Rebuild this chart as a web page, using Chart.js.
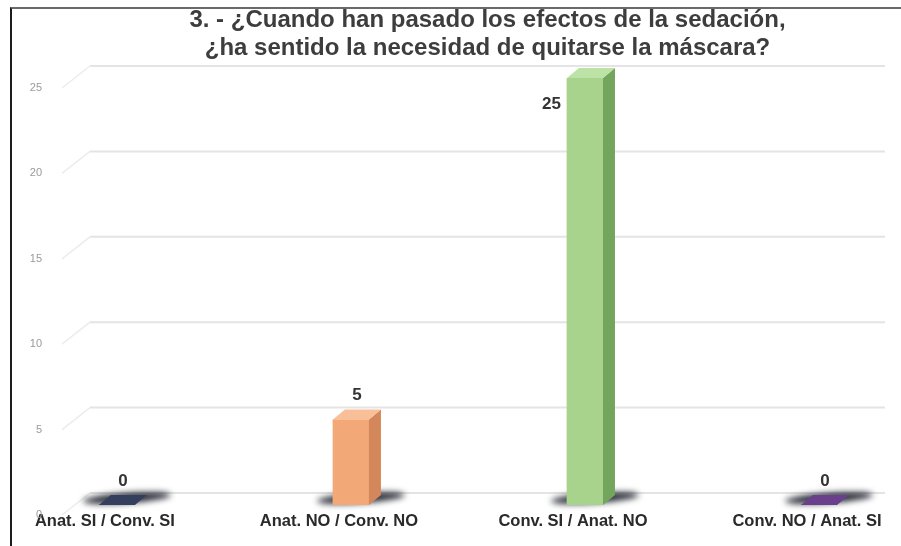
<!DOCTYPE html>
<html>
<head>
<meta charset="utf-8">
<script src="https://cdn.jsdelivr.net/npm/chart.js"></script>
<style>
  html, body { margin: 0; padding: 0; background: #fff; }
  #frame {
    position: absolute; left: 10px; top: 7px; width: 891px; height: 539px;
    border-left: 2px solid #1c1c1c; border-top: 2px solid #6a6a6a;
  }
  #chart { position: absolute; left: 0; top: 0; }
</style>
</head>
<body>
<div id="frame"></div>
<canvas id="chart" width="901" height="546"></canvas>
<script>
const categories = [
  "Anat. SI / Conv. SI",
  "Anat. NO / Conv. NO",
  "Conv. SI / Anat. NO",
  "Conv. NO / Anat. SI",
];
const answers = [0, 5, 25, 0];
const yTicks = [0, 5, 10, 15, 20, 25];
const titleLines = [
  "3. - ¿Cuando han pasado los efectos de la sedación,",
  "¿ha sentido la necesidad de quitarse la máscara?",
];

// front / side / top colours of each column
const frontColors = ["#2b3550", "#f3a878", "#a7d38c", "#5b3479"];
const sideColors = ["#1d2438", "#d4875a", "#74a55d", "#3f2156"];
const topColors = ["#343f5e", "#f8bf98", "#bde2a5", "#6a3f8c"];

const DX = 12; // depth of the columns
const DY = 10;

const depthPlugin = {
  id: "depth3d",
  beforeDatasetsDraw(chart) {
    const { ctx, chartArea, scales } = chart;
    const y = scales.y;
    ctx.save();
    // back wall grid with the slanted links to the tick labels
    yTicks.forEach((v) => {
      const yf = y.getPixelForValue(v);
      const yb = yf - 12;
      ctx.strokeStyle = "#e4e4e4";
      ctx.lineWidth = 2;
      ctx.beginPath();
      ctx.moveTo(chartArea.left, yb);
      ctx.lineTo(chartArea.right, yb);
      ctx.stroke();
      ctx.lineWidth = 1.5;
      ctx.strokeStyle = "#ececec";
      ctx.beginPath();
      ctx.moveTo(chartArea.left - 28, yf + 10);
      ctx.lineTo(chartArea.left, yb);
      ctx.stroke();
    });
    // dark smeared shadows at the foot of the columns
    const meta = chart.getDatasetMeta(0);
    meta.data.forEach((bar) => {
      const p = bar.getProps(["x", "base"], true);
      ctx.save();
      ctx.filter = "blur(3px)";
      ctx.fillStyle = "rgba(25,28,40,0.95)";
      ctx.beginPath();
      ctx.ellipse(p.x + 10, p.base - 7, 44, 5, -0.07, 0, Math.PI * 2);
      ctx.fill();
      ctx.restore();
    });
    ctx.restore();
  },
  afterDatasetsDraw(chart) {
    const { ctx, chartArea } = chart;
    const meta = chart.getDatasetMeta(0);
    ctx.save();
    meta.data.forEach((bar, i) => {
      const p = bar.getProps(["x", "y", "base", "width"], true);
      const l = p.x - p.width / 2;
      const r = p.x + p.width / 2;
      // side face
      ctx.fillStyle = sideColors[i];
      ctx.beginPath();
      ctx.moveTo(r, p.y);
      ctx.lineTo(r + DX, p.y - DY);
      ctx.lineTo(r + DX, p.base - DY);
      ctx.lineTo(r, p.base);
      ctx.closePath();
      ctx.fill();
      // top face
      ctx.fillStyle = topColors[i];
      ctx.beginPath();
      ctx.moveTo(l, p.y);
      ctx.lineTo(l + DX, p.y - DY);
      ctx.lineTo(r + DX, p.y - DY);
      ctx.lineTo(r, p.y);
      ctx.closePath();
      ctx.fill();

      // value label
      ctx.fillStyle = "#333";
      ctx.font = "bold 17px 'Liberation Sans', Arial, sans-serif";
      ctx.textBaseline = "middle";
      const ly = p.y - DY - 14;
      if (ly < chartArea.top) {
        ctx.textAlign = "right";
        ctx.fillText(answers[i], l - 6, p.y + 26);
      } else {
        ctx.textAlign = "center";
        ctx.fillText(answers[i], p.x + DX / 2, ly);
      }
    });
    ctx.restore();
  },
};

new Chart(document.getElementById("chart").getContext("2d"), {
  type: "bar",
  data: {
    datasets: [
      {
        data: answers.map((v, i) => ({ x: i, y: v })),
        backgroundColor: frontColors,
        borderWidth: 0,
        barThickness: 36,
      },
    ],
  },
  options: {
    responsive: false,
    animation: false,
    layout: { padding: { top: 6, right: 16, bottom: 0, left: 0 } },
    plugins: {
      legend: { display: false },
      tooltip: { enabled: false },
      title: {
        display: true,
        fullSize: false,
        text: titleLines,
        color: "#3d3d3d",
        font: { family: "'Liberation Sans', Arial, sans-serif", size: 24, weight: "bold", lineHeight: 1.1667 },
        padding: { top: 0, bottom: 16 },
      },
    },
    scales: {
      x: {
        type: "linear",
        offset: false,
        min: -0.115,
        max: 3.282,
        afterBuildTicks: (scale) => {
          scale.ticks = categories.map((c, i) => ({ value: i }));
        },
        afterFit: (scale) => {
          scale.height = 41;
          scale.paddingLeft = 0;
          scale.paddingRight = 0;
        },
        grid: { display: false, drawTicks: false },
        border: { display: false },
        ticks: {
          callback: (v) => categories[v],
          color: "#2a2a2a",
          font: { family: "'Liberation Sans', Arial, sans-serif", size: 16.5, weight: "bold" },
          padding: 7,
          labelOffset: -12,
          maxRotation: 0,
          autoSkip: false,
        },
      },
      y: {
        min: 0,
        max: 25,
        afterBuildTicks: (scale) => {
          scale.ticks = yTicks.map((v) => ({ value: v }));
        },
        afterFit: (scale) => {
          scale.width = 90;
          scale.paddingTop = 0;
          scale.paddingBottom = 0;
        },
        grid: { display: false, drawTicks: false },
        border: { display: false },
        ticks: {
          color: "#9a9a9a",
          font: { family: "'Liberation Sans', Arial, sans-serif", size: 11 },
          padding: 48,
          labelOffset: 10,
        },
      },
    },
  },
  plugins: [depthPlugin],
});
</script>
</body>
</html>
